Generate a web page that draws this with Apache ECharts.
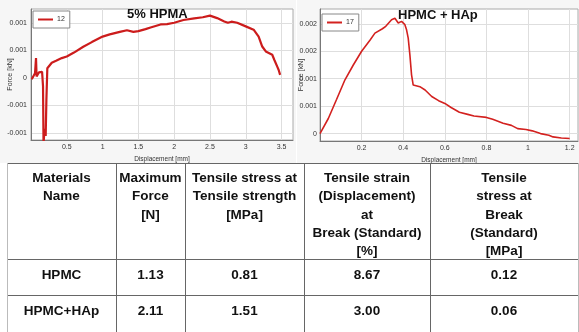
<!DOCTYPE html>
<html><head><meta charset="utf-8">
<script src="https://cdn.jsdelivr.net/npm/echarts@6/dist/echarts.min.js"></script>
<style>
html,body{margin:0;padding:0;background:#fff;width:579px;height:332px;overflow:hidden;}
#chart{position:absolute;left:0;top:0;width:579px;height:332px;}
#table{position:absolute;left:0;top:0;width:579px;height:332px;font-family:"Liberation Sans",Arial,sans-serif;font-weight:bold;font-size:13.5px;line-height:18.3px;color:#111;}
.cell{position:absolute;text-align:center;white-space:pre-line;}
.hl{position:absolute;height:1px;background:#666;}
.vl{position:absolute;width:1px;background:#666;}
</style></head><body>
<div id="chart"></div><div id="table"></div>
<script>
// ---- Chart 1: 5% HPMA (series "12") ----
const disp1 = [0.01,0.03,0.056,0.065,0.07,0.078,0.09,0.11,0.135,0.155,0.168,0.175,0.185,0.195,0.205,0.215,0.228,0.25,0.29,0.35,0.43,0.5,0.6,0.73,0.85,1.0,1.1,1.24,1.34,1.43,1.5,1.6,1.67,1.81,1.9,2.0,2.13,2.28,2.4,2.5,2.6,2.7,2.75,2.8,2.88,3.0,3.11,3.18,3.23,3.28,3.37,3.4,3.44,3.46,3.48];
const force1 = [-0.000025,0.00001,0.000085,0.00005,0.00036,0.000025,0.00006,0.0001,0.000125,0.00011,-0.00015,-0.0012,-0.001,-0.000925,-0.00105,-0.0004,0.000175,0.00021,0.000275,0.00031,0.00036,0.00039,0.00046,0.000565,0.00065,0.00075,0.00079,0.000835,0.000865,0.000835,0.00085,0.000885,0.000915,0.00097,0.000975,0.001,0.00105,0.00108,0.0011,0.00113,0.001085,0.001025,0.001,0.00102,0.001,0.000935,0.000875,0.00075,0.00057,0.00048,0.00042,0.000325,0.000205,0.000145,0.000055];
// ---- Chart 2: HPMC + HAp (series "17") ----
const disp2 = [0,0.04,0.08,0.12,0.16,0.2,0.24,0.264,0.3,0.316,0.344,0.36,0.376,0.392,0.408,0.416,0.424,0.432,0.44,0.448,0.48,0.505,0.537,0.57,0.6,0.63,0.67,0.71,0.74,0.8,0.83,0.88,0.92,0.95,0.99,1.02,1.06,1.1,1.12,1.16,1.2];
const force2 = [0,0.000275,0.000625,0.00098,0.00125,0.0015,0.0017,0.00183,0.00191,0.001955,0.002075,0.0021,0.002015,0.002045,0.001985,0.00189,0.00174,0.001435,0.00107,0.000885,0.000855,0.000795,0.000675,0.0006,0.00055,0.000475,0.00039,0.00035,0.00032,0.000295,0.00026,0.00019,0.00015,0.00009,0.000075,0.00005,0,-0.00003,-0.00006,-0.00008,-0.00009];

const xTicks1 = [0.5,1,1.5,2,2.5,3,3.5];
const xTickLabels1 = ['0.5','1','1.5','2','2.5','3','3.5'];
const yTicks1 = [-0.001,-0.0005,0,0.0005,0.001];
const yTickLabels1 = ['-0.001','-0.001','0','0.001','0.001'];
const xTicks2 = [0.2,0.4,0.6,0.8,1,1.2];
const xTickLabels2 = ['0.2','0.4','0.6','0.8','1','1.2'];
const yTicks2 = [0,0.0005,0.001,0.0015,0.002];
const yTickLabels2 = ['0','0.001','0.001','0.002','0.002'];

const titles = ['5% HPMA','HPMC + HAp'];
const seriesNames = ['12','17'];
const xName = 'Displacement [mm]';
const yName = 'Force [kN]';

// ---- Table ----
const tableHeader = ['Materials\nName','Maximum\nForce\n[N]','Tensile stress at\nTensile strength\n[MPa]','Tensile strain\n(Displacement)\nat\nBreak (Standard)\n[%]','Tensile\nstress at\nBreak\n(Standard)\n[MPa]'];
const materials = ['HPMC','HPMC+HAp'];
const maxForce = ['1.13','2.11'];
const tensileStrength = ['0.81','1.51'];
const strainAtBreak = ['8.67','3.00'];
const stressAtBreak = ['0.12','0.06'];

function lbl(ticks, labels){ return v => { const i = ticks.findIndex(t => Math.abs(t - v) < 1e-9); return i < 0 ? '' : labels[i]; }; }
const red = '#d3211f';
const axFont = {fontSize:7, color:'#333', fontFamily:'"Liberation Sans Narrow","Liberation Sans",Arial,sans-serif'};

function xAx(idx, min, max, ticks, labels){
  return {type:'value', gridIndex:idx, min, max, name:xName, nameLocation:'middle', nameGap:16, nameMoveOverlap:false,
    nameTextStyle:Object.assign({}, axFont, {fontSize:6.5}),
    axisLine:{show:true, onZero:false, lineStyle:{color:'#777'}},
    axisTick:{show:false, customValues:ticks},
    axisLabel:Object.assign({customValues:ticks, formatter:lbl(ticks,labels), margin:4}, axFont),
    splitLine:{show:true, lineStyle:{color:'#dedede'}}};
}
function yAx(idx, min, max, ticks, labels, gap, margin){
  return {type:'value', gridIndex:idx, min, max, name:yName, nameLocation:'middle', nameGap:gap, nameMoveOverlap:false,
    nameTextStyle:Object.assign({}, axFont, {fontSize:7}),
    axisLine:{show:true, lineStyle:{color:'#777'}},
    axisTick:{show:false, customValues:ticks},
    axisLabel:Object.assign({customValues:ticks, formatter:lbl(ticks,labels), margin}, axFont),
    splitLine:{show:true, lineStyle:{color:'#dedede'}}};
}

const chart = echarts.init(document.getElementById('chart'));
chart.setOption({
  animation:false,
  backgroundColor:'#fff',
  graphic:[
    {type:'rect', z:-100, shape:{x:0,y:0,width:296,height:163}, style:{fill:'#f6f6f6'}},
    {type:'rect', z:-100, shape:{x:297,y:0,width:282,height:163}, style:{fill:'#f6f6f6'}}
  ],
  title:[
    {text:titles[0], left:127, top:8, padding:0, textStyle:{fontSize:13, fontWeight:'bold', color:'#111', fontFamily:'"Liberation Sans",Arial,sans-serif'}},
    {text:titles[1], left:398, top:9, padding:0, textStyle:{fontSize:13, fontWeight:'bold', color:'#111', fontFamily:'"Liberation Sans",Arial,sans-serif'}}
  ],
  legend:[
    {data:[{name:seriesNames[0], icon:'rect'}], left:33, top:11, padding:[5,5,5,5], itemWidth:15, itemHeight:2, itemGap:4,
      backgroundColor:'#fff', borderColor:'#888', borderWidth:1, borderRadius:0, textStyle:Object.assign({}, axFont, {padding:[0,0,0,-1]})},
    {data:[{name:seriesNames[1], icon:'rect'}], left:322, top:14, padding:[5,5,5,5], itemWidth:15, itemHeight:2, itemGap:4,
      backgroundColor:'#fff', borderColor:'#888', borderWidth:1, borderRadius:0, textStyle:Object.assign({}, axFont, {padding:[0,0,0,-1]})}
  ],
  grid:[
    {left:31, top:9, width:262, height:131, show:true, backgroundColor:'#fff', borderColor:'#aaa', borderWidth:1},
    {left:320, top:9, width:258, height:132, show:true, backgroundColor:'#fff', borderColor:'#aaa', borderWidth:1}
  ],
  xAxis:[ xAx(0, 0, 3.66, xTicks1, xTickLabels1), xAx(1, 0, 1.24, xTicks2, xTickLabels2) ],
  yAxis:[ yAx(0, -0.001125, 0.00125, yTicks1, yTickLabels1, 17, 4), yAx(1, -0.000135, 0.00227, yTicks2, yTickLabels2, 15.5, 3) ],
  series:[
    {name:seriesNames[0], type:'line', xAxisIndex:0, yAxisIndex:0, showSymbol:false, clip:true,
      data:disp1.map((d,i)=>[d, force1[i]]), lineStyle:{color:'#cc1c1c', width:2.2}, itemStyle:{color:'#cc1c1c'}},
    {name:seriesNames[1], type:'line', xAxisIndex:1, yAxisIndex:1, showSymbol:false, clip:true,
      data:disp2.map((d,i)=>[d, force2[i]]), lineStyle:{color:red, width:1.6}, itemStyle:{color:red}}
  ]
});

// ---- Build table ----
const colX = [7,116,185,304,430,578];
const rowY = [163,259,295,340];
const tbl = document.getElementById('table');
function add(cls, style, text){ const d=document.createElement('div'); d.className=cls; Object.assign(d.style, style); if(text!==undefined) d.textContent=text; tbl.appendChild(d); }
const rows = [tableHeader];
materials.forEach((m,i)=>rows.push([m, maxForce[i], tensileStrength[i], strainAtBreak[i], stressAtBreak[i]]));
rows.forEach((r,ri)=>{
  r.forEach((t,ci)=>{
    add('cell', {left:colX[ci]+'px', width:(colX[ci+1]-colX[ci])+'px', top:(rowY[ri]+(ri===0?6:7))+'px'}, t);
  });
});
rowY.slice(0,3).forEach(y=>add('hl',{left:colX[0]+'px', width:(colX[5]-colX[0])+'px', top:y+'px'}));
colX.forEach((x,i)=>add('vl',{left:x+'px', top:rowY[0]+'px', height:(332-rowY[0])+'px', background: (i===0||i===5)?'#bbb':'#666'}));
</script>
</body></html>
